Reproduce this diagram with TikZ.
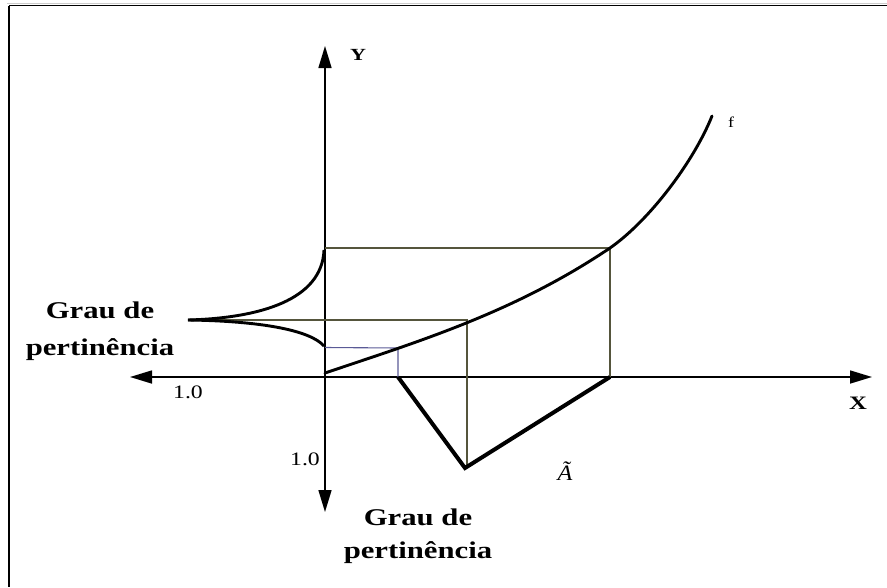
\documentclass[tikz,border=0pt]{standalone}
\usepackage{fontspec}
\setmainfont{Liberation Serif}
\usetikzlibrary{arrows.meta}
\definecolor{thinline}{RGB}{85,85,60}
\definecolor{smallline}{RGB}{90,90,150}
\tikzset{
  axis/.style={line width=1.6pt, -{Triangle[length=22pt,width=13pt]}},
  guide/.style={thinline, line width=1.1pt},
  curve/.style={line width=2.9pt, line join=round, line cap=round},
  tri/.style={line width=4pt, line join=miter},
  bigl/.style={font=\fontsize{24}{37}\selectfont\bfseries, xscale=1.28, transform shape, inner sep=0pt},
  numl/.style={font=\fontsize{19}{22}\selectfont, xscale=1.25, transform shape, inner sep=0pt},
}
\begin{document}
\begin{tikzpicture}[x=1pt,y=-1pt]
\useasboundingbox (0,0) rectangle (887,587);
% frame
\draw[gray!40, line width=1pt] (7,3) -- (887,3);
\draw[black, line width=1.6pt] (9,5.5) -- (887,5.5);
\draw[black, line width=1.6pt] (9,5.5) -- (9,587);
% axes
\coordinate (O) at (325,377);
\coordinate (xl) at (130,377);
\coordinate (xr) at (872,377);
\coordinate (yt) at (325,46);
\coordinate (yb) at (325,512);
\draw[axis] (O) -- (xr);
\draw[axis] (O) -- (xl);
\draw[axis] (O) -- (yt);
\draw[axis] (O) -- (yb);
% key points
\coordinate (p1) at (398,348);
\coordinate (p2) at (467,320);
\coordinate (p3) at (610,248);
\coordinate (q1) at (398,377);
\coordinate (q2) at (465,468);
\coordinate (q3) at (610,377);
\coordinate (tip) at (188,320);
\coordinate (fs) at (325,373);
\coordinate (fe) at (712,116);
% guide lines
\draw[guide] (325,248) -- (p3) -- (q3);
\draw[guide] (tip) -- (p2) -- (467,466);
\draw[smallline, line width=1.1pt] (325,347.5) -- (p1) -- (q1);
% curve f
\draw[curve] (fs) .. controls (420,341) and (515,312) .. (p3)
                  .. controls (650,220) and (694,161) .. (fe);
% triangle
\draw[tri] (q1) -- (q2) -- (q3);
% left membership cusp
\draw[curve, line cap=butt] (324,250) .. controls (322,300) and (260,318) .. (tip);
\draw[curve, line cap=butt] (tip) .. controls (260,321) and (310,330) .. (324,346);
% labels
\node[bigl, anchor=base] (gl1) at (100,318) {Grau de};
\node[bigl, anchor=base] (gl2) at (100,355) {pertinência};
\node[bigl, anchor=base] (gb1) at (418,525) {Grau de};
\node[bigl, anchor=base] (gb2) at (418,558) {pertinência};
\node[numl, anchor=base] (one1) at (188,398) {1.0};
\node[numl, anchor=base] (one2) at (305,465) {1.0};
\node[font=\fontsize{17}{20}\selectfont\bfseries, xscale=1.3, transform shape, anchor=base, inner sep=0pt] (ylab) at (358,60) {Y};
\node[font=\fontsize{19}{22}\selectfont\bfseries, xscale=1.3, transform shape, anchor=base, inner sep=0pt] (xlab) at (858,409) {X};
\node[font=\fontsize{15}{18}\selectfont, xscale=1.2, transform shape, anchor=base, inner sep=0pt] (flab) at (731,127) {f};
\node[font=\fontsize{22}{26}\selectfont\itshape, xscale=1.1, transform shape, anchor=base, inner sep=0pt] (alab) at (565,480) {Ã};
\end{tikzpicture}
\end{document}
